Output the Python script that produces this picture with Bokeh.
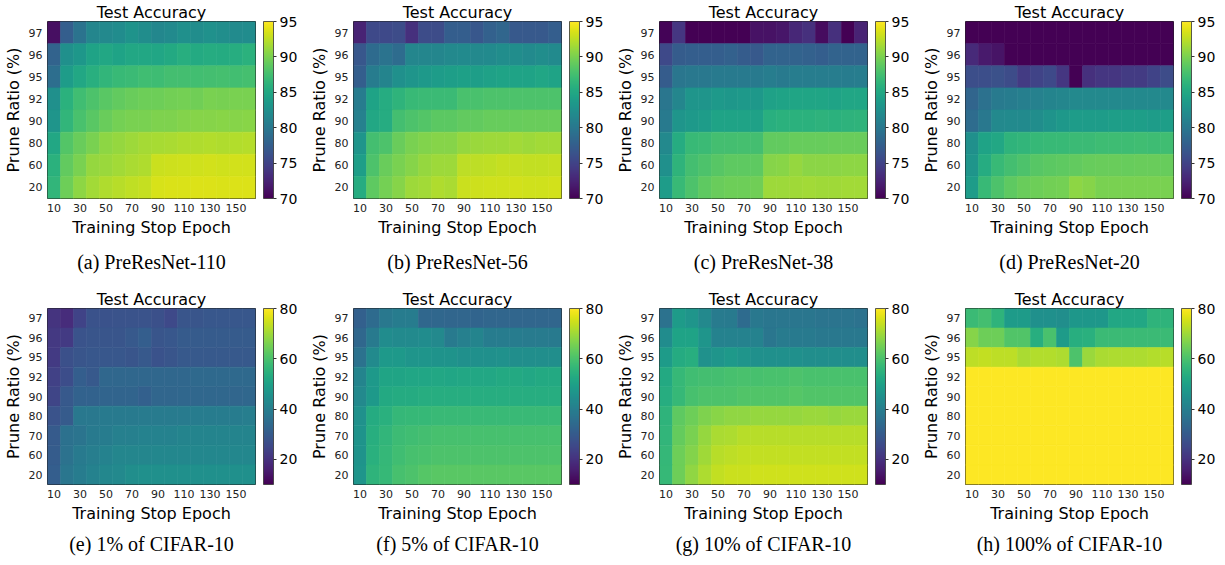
from bokeh.plotting import figure
from bokeh.models import (LinearColorMapper, ColorBar, FixedTicker, Range1d,
                          FactorRange, Title, ColumnDataSource)
from bokeh.transform import transform
from bokeh.palettes import Viridis256
from bokeh.layouts import column, row
from bokeh.embed import file_html
from bokeh.resources import INLINE

epochs = [10, 20, 30, 40, 50, 60, 70, 80, 90, 100, 110, 120, 130, 140, 150, 160]
ratios_top = ["97", "96", "95", "92", "90", "80", "60", "20"]
ratios_bottom = ["97", "96", "95", "92", "90", "80", "70", "60", "20"]
x_tick_labels = [10, 30, 50, 70, 90, 110, 130, 150]
cbar_ticks_top = [70, 75, 80, 85, 90, 95]
cbar_ticks_bottom = [20, 40, 60, 80]

captions_top = ["(a) PreResNet-110", "(b) PreResNet-56", "(c) PreResNet-38", "(d) PreResNet-20"]
captions_bottom = ["(e) 1% of CIFAR-10", "(f) 5% of CIFAR-10", "(g) 10% of CIFAR-10", "(h) 100% of CIFAR-10"]

# rows ordered top to bottom (97 ... 20), columns epochs 10..160
acc_preresnet110 = [
    [71.0, 77.5, 79.5, 81.5, 81.8, 82.2, 82.8, 82.3, 81.6, 82.0, 82.5, 82.3, 82.6, 82.4, 82.1, 82.2],
    [78.0, 82.5, 83.2, 84.5, 85.0, 84.5, 85.0, 85.0, 84.8, 85.2, 85.7, 85.3, 85.5, 85.4, 85.6, 86.0],
    [79.0, 83.8, 85.0, 85.8, 86.5, 86.8, 87.0, 87.3, 87.2, 87.5, 87.5, 87.4, 87.5, 87.6, 87.4, 87.6],
    [82.5, 86.0, 87.3, 88.0, 88.6, 89.0, 89.3, 89.5, 89.5, 89.7, 89.8, 89.6, 90.0, 89.9, 90.0, 90.0],
    [83.0, 86.5, 87.8, 88.6, 89.3, 89.8, 90.0, 90.0, 90.2, 90.2, 90.4, 90.5, 90.5, 90.6, 90.5, 90.6],
    [85.0, 88.3, 89.3, 90.0, 90.8, 91.0, 91.3, 91.6, 91.7, 91.8, 92.0, 92.0, 92.1, 92.0, 92.1, 92.2],
    [86.0, 89.0, 90.0, 91.0, 91.2, 91.5, 91.8, 92.0, 93.0, 93.1, 93.2, 93.2, 93.3, 93.2, 93.3, 93.3],
    [86.5, 89.5, 90.8, 91.5, 92.0, 92.3, 92.6, 92.8, 93.5, 93.6, 93.6, 93.7, 93.7, 93.6, 93.7, 93.7],
]
acc_preresnet56 = [
    [72.5, 75.5, 75.5, 75.8, 73.5, 75.8, 75.8, 77.5, 77.5, 76.8, 77.8, 78.3, 77.0, 77.0, 77.0, 77.5],
    [76.8, 78.7, 79.5, 78.8, 81.5, 81.5, 81.5, 81.8, 82.0, 81.8, 82.0, 82.3, 82.3, 82.0, 82.3, 82.0],
    [77.5, 80.5, 81.3, 82.5, 83.0, 83.5, 83.8, 84.0, 84.2, 84.0, 84.3, 84.5, 84.5, 84.5, 84.8, 84.5],
    [80.5, 84.5, 85.5, 86.3, 86.8, 87.0, 87.0, 87.0, 87.8, 87.8, 88.0, 88.0, 88.0, 88.0, 88.0, 88.0],
    [81.0, 85.0, 85.5, 87.5, 88.0, 88.3, 88.7, 88.7, 89.0, 89.0, 89.2, 89.2, 89.2, 89.3, 89.3, 89.3],
    [83.0, 87.5, 88.0, 89.3, 90.0, 90.3, 90.5, 90.5, 91.0, 91.2, 91.3, 91.3, 91.5, 91.3, 91.5, 91.5],
    [84.0, 88.0, 89.3, 90.0, 90.5, 91.0, 91.3, 91.3, 92.5, 92.5, 92.6, 92.8, 92.8, 92.7, 92.7, 92.8],
    [85.5, 88.8, 89.8, 90.5, 91.3, 91.5, 92.0, 91.8, 93.0, 93.1, 93.2, 93.2, 93.3, 93.2, 93.2, 93.3],
]
acc_preresnet38 = [
    [70.2, 74.0, 70.0, 69.5, 69.0, 69.2, 69.4, 71.2, 71.2, 71.5, 72.8, 73.5, 70.8, 73.5, 70.0, 72.5],
    [75.5, 77.3, 77.5, 77.5, 77.5, 77.8, 77.3, 77.0, 78.0, 78.0, 78.0, 77.8, 77.5, 78.0, 78.0, 78.0],
    [77.3, 79.8, 80.0, 80.0, 80.2, 80.2, 80.2, 80.2, 80.6, 80.3, 80.6, 80.6, 80.6, 80.6, 80.5, 80.6],
    [79.8, 81.5, 83.0, 83.0, 83.5, 83.2, 83.5, 83.3, 84.3, 84.5, 84.7, 84.7, 84.7, 84.5, 84.8, 84.8],
    [80.3, 83.0, 83.5, 83.8, 84.5, 84.5, 84.5, 84.3, 85.8, 86.0, 86.0, 86.0, 86.2, 86.0, 86.2, 86.3],
    [81.8, 85.5, 86.8, 87.0, 87.5, 87.5, 87.6, 87.5, 89.0, 89.0, 89.2, 89.2, 89.2, 89.3, 89.3, 89.3],
    [82.5, 86.3, 87.5, 88.0, 88.5, 88.8, 88.8, 88.8, 90.5, 90.6, 91.0, 90.7, 90.7, 90.7, 90.8, 90.8],
    [83.8, 86.8, 88.0, 88.8, 89.3, 89.5, 89.5, 89.6, 91.3, 91.3, 91.4, 91.5, 91.4, 91.4, 91.5, 91.5],
]
acc_preresnet20 = [
    [62.0, 60.5, 61.0, 58.0, 57.5, 59.0, 58.5, 57.0, 56.0, 58.0, 57.5, 58.5, 57.0, 58.0, 57.5, 58.0],
    [73.0, 71.8, 71.3, 69.5, 68.8, 69.2, 68.5, 69.0, 68.0, 69.3, 68.7, 69.1, 68.9, 69.0, 68.6, 69.2],
    [76.0, 76.0, 76.2, 75.8, 74.3, 75.0, 75.5, 74.0, 68.5, 73.5, 74.0, 74.0, 74.3, 74.3, 75.0, 75.8],
    [78.2, 79.3, 80.3, 80.5, 80.8, 81.0, 81.3, 81.5, 81.8, 81.8, 81.8, 81.8, 81.8, 81.8, 81.8, 81.8],
    [78.8, 80.0, 81.8, 82.0, 82.0, 82.3, 82.8, 83.3, 83.8, 83.8, 83.8, 84.0, 84.0, 84.0, 83.8, 84.0],
    [82.5, 84.5, 85.0, 86.3, 86.5, 86.7, 86.8, 86.8, 87.0, 87.0, 87.2, 87.2, 87.2, 87.3, 87.2, 87.3],
    [83.0, 85.5, 86.8, 87.5, 88.0, 88.5, 88.7, 88.8, 89.0, 89.2, 89.3, 89.3, 89.2, 89.3, 89.3, 89.2],
    [83.8, 86.8, 88.0, 88.8, 89.3, 89.5, 89.7, 89.8, 90.8, 90.5, 90.0, 90.0, 90.0, 90.0, 90.0, 90.0],
]

acc_cifar1 = [
    [20.5, 19.0, 24.0, 27.5, 27.5, 28.0, 28.0, 28.0, 27.0, 25.5, 28.5, 28.5, 29.0, 29.0, 29.0, 29.0],
    [21.5, 22.0, 28.0, 28.5, 28.5, 28.5, 29.5, 31.0, 28.5, 29.0, 30.0, 30.0, 30.0, 30.0, 30.0, 30.0],
    [22.0, 27.0, 28.5, 29.0, 29.0, 29.0, 28.5, 29.5, 27.5, 28.5, 29.5, 29.5, 29.5, 29.5, 29.5, 29.5],
    [23.5, 26.5, 31.0, 29.5, 33.5, 33.5, 33.5, 33.5, 33.5, 33.5, 33.5, 33.8, 34.0, 34.0, 34.0, 34.0],
    [24.5, 29.5, 32.0, 32.0, 32.5, 32.5, 32.5, 31.5, 33.0, 33.0, 33.3, 33.5, 33.5, 33.5, 33.0, 33.5],
    [28.0, 30.0, 38.0, 38.0, 38.5, 38.5, 38.5, 39.0, 39.0, 39.0, 39.0, 39.5, 39.5, 39.5, 39.5, 40.0],
    [30.0, 36.0, 37.0, 38.5, 39.5, 40.5, 40.5, 41.0, 41.0, 41.0, 41.5, 41.5, 41.5, 41.5, 41.5, 41.5],
    [30.5, 36.5, 38.5, 40.0, 41.0, 42.0, 42.0, 42.0, 42.5, 42.5, 42.5, 42.5, 42.5, 42.5, 42.5, 42.5],
    [31.0, 37.5, 39.5, 41.0, 42.5, 43.0, 44.5, 45.0, 45.0, 45.0, 45.0, 45.0, 45.0, 45.0, 45.0, 45.0],
]
acc_cifar5 = [
    [31.5, 34.5, 38.0, 39.5, 39.5, 33.5, 33.5, 33.0, 33.0, 32.5, 33.0, 33.0, 33.0, 33.0, 33.0, 33.0],
    [33.5, 38.5, 44.0, 43.5, 43.5, 44.0, 43.0, 38.5, 40.5, 41.5, 39.5, 39.5, 39.5, 39.0, 39.0, 38.5],
    [36.5, 43.5, 47.5, 47.5, 46.5, 46.5, 46.0, 46.0, 45.0, 45.0, 45.0, 45.5, 44.5, 44.5, 44.5, 44.5],
    [41.5, 47.5, 51.0, 51.0, 51.5, 51.5, 52.0, 51.5, 52.0, 52.0, 52.0, 52.5, 52.5, 52.0, 52.5, 52.5],
    [43.0, 48.0, 52.5, 53.0, 53.0, 53.5, 53.5, 53.5, 53.5, 53.5, 53.5, 53.5, 53.5, 53.5, 53.5, 53.5],
    [45.5, 53.0, 54.5, 56.5, 57.0, 57.0, 57.5, 57.5, 57.5, 57.5, 57.5, 57.5, 57.5, 57.5, 57.5, 57.5],
    [46.0, 54.0, 56.0, 58.0, 58.5, 59.0, 59.5, 59.5, 59.5, 59.5, 59.5, 59.5, 59.5, 59.5, 59.5, 59.5],
    [46.0, 54.5, 56.5, 58.5, 59.5, 60.0, 60.5, 60.5, 60.5, 60.5, 60.5, 60.5, 60.5, 60.5, 60.5, 60.5],
    [46.5, 55.5, 57.0, 59.5, 60.5, 61.5, 62.0, 62.0, 62.0, 62.0, 62.0, 62.0, 62.0, 62.0, 62.0, 62.0],
]
acc_cifar10 = [
    [36.5, 48.5, 46.5, 43.0, 39.0, 38.5, 34.5, 38.0, 37.5, 37.5, 37.5, 37.5, 37.0, 37.0, 37.0, 36.5],
    [44.0, 50.5, 50.5, 46.5, 41.0, 41.0, 41.0, 41.0, 37.5, 39.0, 38.5, 38.5, 38.0, 38.0, 38.0, 38.0],
    [48.5, 53.0, 54.0, 45.5, 46.5, 48.0, 46.5, 45.0, 45.0, 45.0, 45.0, 44.5, 44.5, 44.5, 44.5, 44.5],
    [52.5, 57.0, 58.5, 59.0, 59.0, 59.5, 60.0, 59.5, 60.0, 60.0, 60.5, 60.0, 60.0, 60.0, 60.0, 60.0],
    [53.5, 57.0, 59.5, 60.5, 60.5, 60.5, 61.0, 61.0, 61.0, 61.0, 61.5, 61.0, 61.0, 61.0, 61.0, 61.0],
    [55.5, 62.5, 64.5, 66.5, 67.5, 68.5, 68.5, 69.0, 69.0, 69.0, 69.0, 69.5, 69.5, 69.0, 69.5, 69.5],
    [56.0, 63.5, 66.0, 69.0, 71.0, 71.5, 72.5, 72.5, 72.5, 72.5, 72.5, 72.5, 72.5, 72.5, 72.5, 72.5],
    [56.5, 64.5, 67.0, 70.0, 72.5, 73.0, 73.5, 73.5, 73.5, 73.5, 73.5, 73.5, 73.5, 73.5, 73.5, 73.5],
    [57.0, 64.5, 68.5, 71.5, 73.5, 74.5, 74.5, 75.0, 75.0, 75.0, 75.0, 75.0, 75.0, 75.0, 75.0, 75.0],
]
acc_cifar100 = [
    [57.6, 59.0, 55.5, 48.5, 48.5, 45.0, 45.0, 44.5, 47.0, 47.0, 47.0, 52.0, 52.0, 52.0, 55.5, 55.5],
    [67.4, 64.5, 64.5, 61.0, 61.0, 54.0, 60.0, 48.5, 54.0, 54.5, 57.6, 57.6, 57.6, 57.6, 57.6, 57.8],
    [73.0, 73.5, 73.0, 73.0, 71.0, 72.0, 72.0, 71.5, 60.5, 69.5, 71.0, 71.5, 71.5, 71.5, 72.0, 72.5],
    [91.2, 91.5, 91.8, 92.0, 92.1, 92.2, 92.2, 92.3, 92.3, 92.4, 92.4, 92.4, 92.5, 92.5, 92.5, 92.5],
    [91.8, 92.1, 92.4, 92.6, 92.7, 92.8, 92.8, 92.9, 92.9, 93.0, 93.0, 93.0, 93.0, 93.1, 93.1, 93.1],
    [92.6, 93.0, 93.2, 93.4, 93.5, 93.5, 93.6, 93.6, 93.7, 93.7, 93.7, 93.8, 93.8, 93.8, 93.8, 93.9],
    [92.9, 93.3, 93.5, 93.7, 93.8, 93.9, 93.9, 94.0, 94.0, 94.0, 94.1, 94.1, 94.1, 94.1, 94.2, 94.2],
    [93.1, 93.5, 93.8, 93.9, 94.0, 94.1, 94.2, 94.2, 94.3, 94.3, 94.3, 94.3, 94.4, 94.4, 94.4, 94.4],
    [93.4, 93.8, 94.0, 94.2, 94.3, 94.4, 94.4, 94.5, 94.5, 94.5, 94.6, 94.6, 94.6, 94.6, 94.6, 94.7],
]

FONT = "DejaVu Sans"
FRAME_W = 208


def make_panel(values, ratios, caption, low, high, cticks, fheight, right, bottom, cap_standoff):
    xs, ys, vs = [], [], []
    for r, vals in zip(ratios, values):
        for e, v in zip(epochs, vals):
            xs.append(e)
            ys.append(r)
            vs.append(v)
    src = ColumnDataSource(dict(epoch=xs, ratio=ys, acc=vs))
    mapper = LinearColorMapper(palette=Viridis256, low=low, high=high)
    step = epochs[1] - epochs[0]
    p = figure(frame_width=FRAME_W, frame_height=fheight,
               x_range=Range1d(epochs[0] - step / 2, epochs[-1] + step / 2),
               y_range=FactorRange(factors=list(reversed(ratios))),
               output_backend="svg", toolbar_location=None,
               min_border_left=40, min_border_right=right,
               min_border_top=15, min_border_bottom=bottom)
    p.rect(x="epoch", y="ratio", width=step, height=1, source=src,
           fill_color=transform("acc", mapper),
           line_color=transform("acc", mapper), line_width=0.6)
    p.title.text = "Test Accuracy"
    p.title.align = "center"
    p.title.text_font = FONT
    p.title.text_font_size = "16px"
    p.title.text_font_style = "normal"
    p.title.text_color = "black"
    p.title.standoff = 0
    p.grid.visible = False
    p.outline_line_color = "#222222"
    p.outline_line_width = 1
    p.outline_line_alpha = 1
    p.xaxis.ticker = FixedTicker(ticks=x_tick_labels)
    for ax in (p.xaxis[0], p.yaxis[0]):
        ax.axis_line_color = None
        ax.major_tick_line_color = None
        ax.minor_tick_line_color = None
        ax.major_tick_out = 0
        ax.major_tick_in = 0
        ax.minor_tick_out = 0
        ax.major_label_text_font = FONT
        ax.major_label_text_font_size = "11px"
        ax.major_label_text_color = "#222222"
        ax.axis_label_text_font = FONT
        ax.axis_label_text_font_size = "16px"
        ax.axis_label_text_font_style = "normal"
        ax.axis_label_text_color = "black"
        ax.major_label_standoff = 5
        ax.axis_label_standoff = 3
    p.xaxis.axis_label = "Training Stop Epoch"
    p.yaxis.axis_label = "Prune Ratio (%)"
    cb = ColorBar(color_mapper=mapper, ticker=FixedTicker(ticks=cticks),
                  width=10, height=fheight, padding=0, margin=0,
                  location=(FRAME_W + 8, 0),
                  label_standoff=3, major_tick_out=3, major_tick_in=0,
                  major_tick_line_color="#333333", minor_tick_line_color=None,
                  bar_line_color="#333333", bar_line_width=0.8,
                  major_label_text_font=FONT, major_label_text_font_size="14px",
                  major_label_text_color="black",
                  border_line_color=None, background_fill_color=None)
    p.add_layout(cb)
    p.add_layout(Title(text=caption, align="center", text_font="Liberation Serif",
                       text_font_size="20px", text_font_style="normal",
                       text_color="black", standoff=cap_standoff), "below")
    return p


rights = [51, 51, 51, 45]
top_data = [acc_preresnet110, acc_preresnet56, acc_preresnet38, acc_preresnet20]
bottom_data = [acc_cifar1, acc_cifar5, acc_cifar10, acc_cifar100]

top_figs = [make_panel(d, ratios_top, c, 70, 95, cbar_ticks_top, 177, r, 89, 18)
            for d, c, r in zip(top_data, captions_top, rights)]
bottom_figs = [make_panel(d, ratios_bottom, c, 10, 80, cbar_ticks_bottom, 176, r, 72, 11)
               for d, c, r in zip(bottom_data, captions_bottom, rights)]

layout = column(row(*top_figs), row(*bottom_figs))
open("out.html", "w").write(file_html(layout, INLINE))
